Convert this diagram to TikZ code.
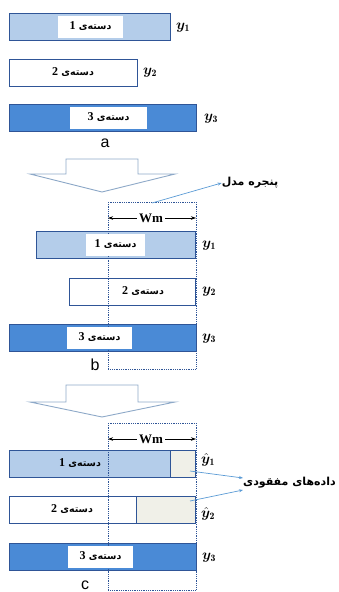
\documentclass[tikz,border=0pt]{standalone}
\usepackage{fontspec}
\usepackage{bm}
\TeXXeTstate=1
\newfontfamily\arabicfont[Script=Arabic]{DejaVu Sans}
\newfontfamily\latsans{Liberation Sans}
\newfontfamily\latserif{Liberation Serif}
\usetikzlibrary{arrows.meta}
\definecolor{edge}{HTML}{2F5597}
\definecolor{lblue}{HTML}{B4CDEA}
\definecolor{mblue}{HTML}{4A8AD6}
\definecolor{miss}{HTML}{F0F0E8}
\definecolor{arr}{HTML}{8EA9C8}
\definecolor{note}{HTML}{5B9BD5}
\newcommand{\grp}[1]{{\latserif\bfseries\fontsize{12}{12}\selectfont #1}\ {\arabicfont\bfseries\fontsize{9.5}{9.5}\selectfont\beginR دستەی\endR}}
\tikzset{
  bar/.style={draw=edge, line width=1.3pt, inner sep=0pt, minimum height=27pt, anchor=north west},
  lbl/.style={inner sep=1pt, minimum height=22pt},
  lblbox/.style={lbl, fill=white},
  yl/.style={inner sep=0pt, font=\fontsize{14}{14}\selectfont},
  win/.style={draw=edge, densely dotted, line width=0.8pt},
  wm/.style={inner sep=2pt, font=\latserif\bfseries\fontsize{13}{13}\selectfont},
  wmarrow/.style={-{Stealth[length=5pt,width=3.5pt]}, line width=0.7pt, black},
  note/.style={-{Stealth[length=4pt,width=3pt]}, line width=0.7pt, draw=note},
  notelbl/.style={inner sep=0pt, font=\arabicfont\bfseries\fontsize{11}{11}\selectfont},
  bigarrow/.style={draw=arr, line width=0.9pt, fill=white, line join=miter},
  letter/.style={inner sep=0pt, font=\latsans\fontsize{16}{16}\selectfont}
}
\begin{document}
\begin{tikzpicture}[x=1pt,y=-1pt]
\useasboundingbox (0,0) rectangle (339,592);
% ---------- a ----------
\node[bar, fill=lblue, minimum width=161pt] (a1) at (9,13) {};
\node[bar, fill=white, minimum width=128pt] (a2) at (9,59) {};
\node[bar, fill=mblue, minimum width=187pt] (a3) at (9,104) {};
\node[lblbox, minimum width=65pt] (la1) at (90.5,26.5) {\grp{1}};
\node[lbl] (la2) at (73,72.5) {\grp{2}};
\node[lblbox, minimum width=77pt] (la3) at (108.5,117.5) {\grp{3}};
\node[yl] (ya1) at (183,28) {$\bm{y}_{\mathbf{1}}$};
\node[yl] (ya2) at (150,73) {$\bm{y}_{\mathbf{2}}$};
\node[yl] (ya3) at (211,119) {$\bm{y}_{\mathbf{3}}$};
\node[letter] (ta) at (105,143) {a};
\draw[bigarrow] (66,159) -- (138,159) -- (138,174) -- (175,174) -- (102,192) -- (30,174) -- (66,174) -- cycle;
% ---------- b ----------
\node[bar, fill=lblue, minimum width=159pt] (b1) at (36,231) {};
\node[bar, fill=white, minimum width=126pt] (b2) at (69,278) {};
\node[bar, fill=mblue, minimum width=187pt] (b3) at (9,324) {};
\draw[win] (108,202) rectangle (196,369);
\node[lblbox, minimum width=59pt] (lb1) at (115.5,244.5) {\grp{1}};
\node[lbl] (lb2) at (143,291) {\grp{2}};
\node[lblbox, minimum width=65pt] (lb3) at (99.5,337.5) {\grp{3}};
\node[yl] (yb1) at (209,246) {$\bm{y}_{\mathbf{1}}$};
\node[yl] (yb2) at (209,292) {$\bm{y}_{\mathbf{2}}$};
\node[yl] (yb3) at (209,339) {$\bm{y}_{\mathbf{3}}$};
\node[wm] (wm1) at (151,218) {Wm};
\coordinate (w1l) at (108,218);
\coordinate (w1r) at (196,218);
\draw[wmarrow] (wm1.west) -- (w1l);
\draw[wmarrow] (wm1.east) -- (w1r);
\node[notelbl] (pw) at (250,183) {\beginR پنجره مدل\endR};
\coordinate (p1) at (152,203);
\draw[note] (p1) -- (pw.west);
\node[letter] (tb) at (95,365) {b};
\draw[bigarrow] (66,385) -- (138,385) -- (138,402) -- (175,402) -- (102,417) -- (30,402) -- (66,402) -- cycle;
% ---------- c ----------
\node[bar, fill=lblue, minimum width=186pt] (c1) at (9,450) {};
\node[bar, fill=miss, minimum width=25pt] (m1) at (170,450) {};
\node[bar, fill=white, minimum width=186pt] (c2) at (9,496) {};
\node[bar, fill=miss, minimum width=59pt] (m2) at (136,496) {};
\node[bar, fill=mblue, minimum width=187pt] (c3) at (9,543) {};
\draw[win] (108,423) rectangle (196,590);
\node[lbl] (lc1) at (80,463) {\grp{1}};
\node[lbl] (lc2) at (72,509.5) {\grp{2}};
\node[lblbox, minimum width=65pt] (lc3) at (100.5,556.5) {\grp{3}};
\node[yl] (yc1) at (208,460) {$\hat{\bm{y}}_{\mathbf{1}}$};
\node[yl] (yc2) at (208,514) {$\hat{\bm{y}}_{\mathbf{2}}$};
\node[yl] (yc3) at (209,558) {$\bm{y}_{\mathbf{3}}$};
\node[wm] (wm2) at (151,439) {Wm};
\coordinate (w2l) at (108,439);
\coordinate (w2r) at (196,439);
\draw[wmarrow] (wm2.west) -- (w2l);
\draw[wmarrow] (wm2.east) -- (w2r);
\node[notelbl, anchor=west] (dm) at (243,483) {\beginR دادەهای مفقودی\endR};
\coordinate (q1) at (190,471);
\coordinate (q2) at (190,501);
\draw[note] (q1) -- ([yshift=5pt]dm.west);
\draw[note] (q2) -- ([yshift=-7pt]dm.west);
\node[letter] (tc) at (85,585) {c};
\end{tikzpicture}
\end{document}
